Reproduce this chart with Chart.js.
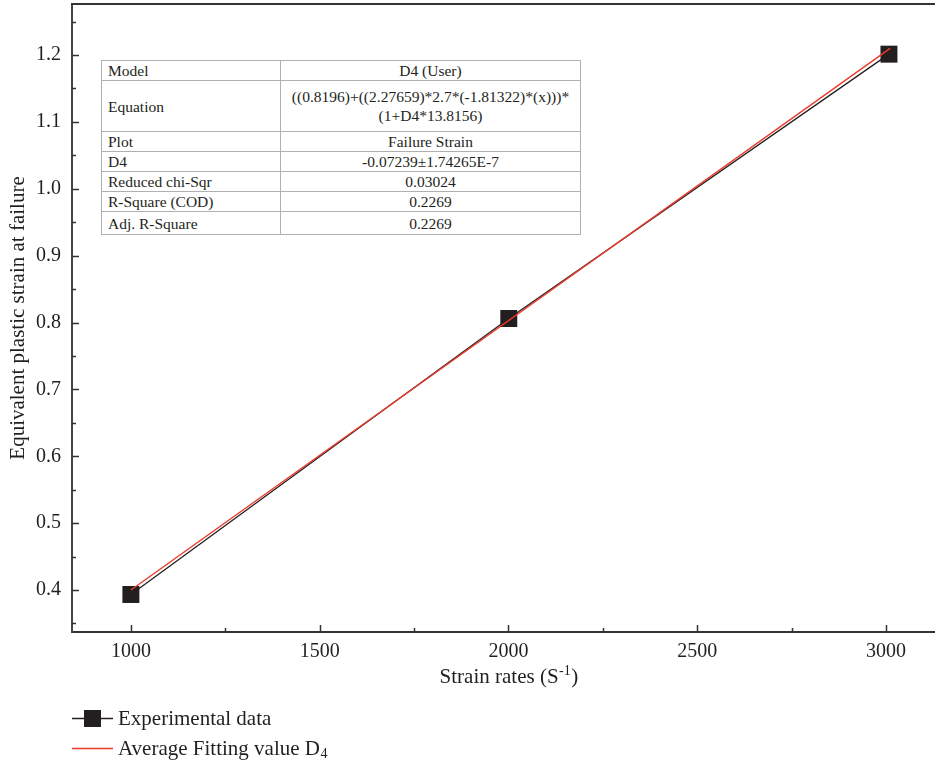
<!DOCTYPE html>
<html>
<head>
<meta charset="utf-8">
<script src="https://cdn.jsdelivr.net/npm/chart.js@4/dist/chart.umd.min.js"></script>
<style>
  html, body { margin: 0; padding: 0; background: #fff; }
  #wrap { position: relative; width: 935px; height: 763px; overflow: hidden; }
  #c { position: absolute; left: 0; top: 0; }
  #fit {
    position: absolute; left: 101px; top: 60px; width: 480px;
    border-collapse: collapse; table-layout: fixed;
    font-family: 'Liberation Serif', serif; font-size: 15.5px; color: #231f20;
    border: 1.5px solid #333; background: #fff;
  }
  #fit td { border: 1px solid #b0b0b0; padding: 0 0 0 6px; line-height: 19px; vertical-align: middle; }
  #fit td.v { text-align: center; padding: 0; }
  #fit col.k { width: 179px; }
</style>
</head>
<body>
<div id="wrap">
  <canvas id="c" width="935" height="763"></canvas>
  <table id="fit"><colgroup><col class="k"><col></colgroup><tbody></tbody></table>
</div>
<script>
// Measured failure strain at each strain rate
const strainRates   = [1000, 2001, 3008];
const failureStrain = [0.3933, 0.806, 1.2013];

// Average fitted curve (D4)
const fitRates  = [1000, 3011];
const fitStrain = [0.400, 1.210];

// Axis ticks
const xTickValues  = [1000, 1500, 2000, 2500, 3000];
const xMinorValues = [1250, 1750, 2250, 2750];
const yTickValues  = [0.4, 0.5, 0.6, 0.7, 0.8, 0.9, 1.0, 1.1, 1.2];
const yMinorValues = [0.35, 0.45, 0.55, 0.65, 0.75, 0.85, 0.95, 1.05, 1.15, 1.25];

// Fit summary table
const fitLabels = ['Model', 'Equation', 'Plot', 'D4', 'Reduced chi-Sqr', 'R-Square (COD)', 'Adj. R-Square'];
const fitValues = ['D4 (User)',
                   '((0.8196)+((2.27659)*2.7*(-1.81322)*(x)))*\n(1+D4*13.8156)',
                   'Failure Strain',
                   '-0.07239\u00b11.74265E-7',
                   '0.03024',
                   '0.2269',
                   '0.2269'];
const fitRowHeights = [20, 51, 18, 19, 19, 19, 23];

const tbody = document.querySelector('#fit tbody');
fitLabels.forEach((lab, i) => {
  const tr = document.createElement('tr');
  tr.style.height = fitRowHeights[i] + 'px';
  const a = document.createElement('td');
  a.textContent = lab;
  const b = document.createElement('td');
  b.className = 'v';
  fitValues[i].split('\n').forEach((line, j) => {
    if (j) b.appendChild(document.createElement('br'));
    b.appendChild(document.createTextNode(line));
  });
  tr.appendChild(a); tr.appendChild(b);
  tbody.appendChild(tr);
});

const SERIF = "'Liberation Serif', 'Times New Roman', serif";
const INK = '#231f20';
const RED = '#ec3b2a';

// Inward major/minor tick marks, top frame line, x title and legend
const decor = {
  id: 'decor',
  afterDraw(chart) {
    const ctx = chart.ctx;
    const xs = chart.scales.x, ys = chart.scales.y;
    const a = chart.chartArea;
    ctx.save();
    ctx.strokeStyle = '#333';
    ctx.lineWidth = 1.5;
    ctx.beginPath();
    xTickValues.forEach(v => { const p = Math.round(xs.getPixelForValue(v)) + 0.5; ctx.moveTo(p, a.bottom); ctx.lineTo(p, a.bottom - 7); });
    xMinorValues.forEach(v => { const p = Math.round(xs.getPixelForValue(v)) + 0.5; ctx.moveTo(p, a.bottom); ctx.lineTo(p, a.bottom - 4); });
    yTickValues.forEach(v => { const p = Math.round(ys.getPixelForValue(v)) + 0.5; ctx.moveTo(a.left, p); ctx.lineTo(a.left + 7, p); });
    yMinorValues.forEach(v => { const p = Math.round(ys.getPixelForValue(v)) + 0.5; ctx.moveTo(a.left, p); ctx.lineTo(a.left + 4, p); });
    ctx.stroke();
    ctx.lineWidth = 2;
    ctx.beginPath();
    ctx.moveTo(a.left - 1, a.top); ctx.lineTo(a.right, a.top);
    ctx.stroke();

    // x axis title with superscript
    ctx.fillStyle = INK;
    ctx.textBaseline = 'alphabetic';
    ctx.textAlign = 'left';
    const main = '21px ' + SERIF, sup = '14px ' + SERIF;
    ctx.font = main;
    const t1 = 'Strain rates (S', t3 = ')';
    const w1 = ctx.measureText(t1).width, w3 = ctx.measureText(t3).width;
    ctx.font = sup;
    const t2 = '-1';
    const w2 = ctx.measureText(t2).width;
    const cx = (xs.getPixelForValue(1000) + xs.getPixelForValue(3000)) / 2;
    let x0 = cx - (w1 + w2 + w3) / 2;
    const base = 683;
    ctx.font = main; ctx.fillText(t1, x0, base);
    ctx.font = sup; ctx.fillText(t2, x0 + w1 + 0.5, base - 8);
    ctx.font = main; ctx.fillText(t3, x0 + w1 + w2 + 1, base);

    // legend
    const ds = chart.data.datasets;
    const exp = ds.find(d => d.key === 'exp');
    const fit = ds.find(d => d.key === 'fit');
    const lx0 = 72, lx1 = 113, tx = 118;
    let ly = 718;
    ctx.strokeStyle = exp.borderColor; ctx.lineWidth = 1.3;
    ctx.beginPath(); ctx.moveTo(lx0, ly + 0.5); ctx.lineTo(lx1, ly + 0.5); ctx.stroke();
    ctx.fillStyle = exp.pointBackgroundColor;
    ctx.fillRect(84, ly - 8, 17, 17);
    ctx.fillStyle = INK; ctx.font = main; ctx.textBaseline = 'middle';
    ctx.fillText(exp.label, tx, ly + 1);
    ly = 748;
    ctx.strokeStyle = fit.borderColor; ctx.lineWidth = 1.3;
    ctx.beginPath(); ctx.moveTo(lx0, ly + 0.5); ctx.lineTo(lx1, ly + 0.5); ctx.stroke();
    ctx.fillStyle = INK; ctx.font = main;
    ctx.fillText(fit.label, tx, ly + 1);
    const wl = ctx.measureText(fit.label).width;
    ctx.font = sup;
    ctx.fillText(fit.subscript, tx + wl + 0.5, ly + 6);
    ctx.restore();
  }
};

new Chart(document.getElementById('c'), {
  type: 'line',
  data: {
    datasets: [
      {
        key: 'fit',
        label: 'Average Fitting value D',
        subscript: '4',
        data: fitRates.map((x, i) => ({ x, y: fitStrain[i] })),
        borderColor: RED,
        borderWidth: 1.4,
        pointRadius: 0,
        fill: false,
        order: 0
      },
      {
        key: 'exp',
        label: 'Experimental data',
        data: strainRates.map((x, i) => ({ x, y: failureStrain[i] })),
        borderColor: INK,
        borderWidth: 1.3,
        pointStyle: 'rect',
        pointRadius: 12,
        pointBorderWidth: 0,
        pointBackgroundColor: INK,
        pointBorderColor: INK,
        fill: false,
        order: 1
      }
    ]
  },
  options: {
    responsive: false,
    animation: false,
    layout: { autoPadding: false, padding: { top: 4, left: 0, right: 0, bottom: 0 } },
    plugins: { legend: { display: false }, tooltip: { enabled: false } },
    scales: {
      x: {
        type: 'linear',
        min: 844, max: 3130,
        afterBuildTicks: s => { s.ticks = xTickValues.map(v => ({ value: v })); },
        afterFit: s => { s.height = 131; s.paddingLeft = 0; s.paddingRight = 0; },
        grid: { display: false, drawTicks: false },
        border: { display: true, color: '#333', width: 2 },
        ticks: {
          font: { family: SERIF, size: 20 }, color: INK, padding: 8,
          maxRotation: 0, autoSkip: false, callback: v => String(v)
        }
      },
      y: {
        type: 'linear',
        min: 0.3372, max: 1.2763,
        afterBuildTicks: s => { s.ticks = yTickValues.map(v => ({ value: v })); },
        afterFit: s => { s.width = 72; s.paddingTop = 0; s.paddingBottom = 0; },
        grid: { display: false, drawTicks: false },
        border: { display: true, color: '#444', width: 2 },
        ticks: {
          font: { family: SERIF, size: 20 }, color: INK, padding: 11,
          autoSkip: false, callback: v => v.toFixed(1)
        },
        title: {
          display: true, text: 'Equivalent plastic strain at failure',
          font: { family: SERIF, size: 21 }, color: INK,
          padding: { top: 6, bottom: 0 }
        }
      }
    }
  },
  plugins: [decor]
});
</script>
</body>
</html>
